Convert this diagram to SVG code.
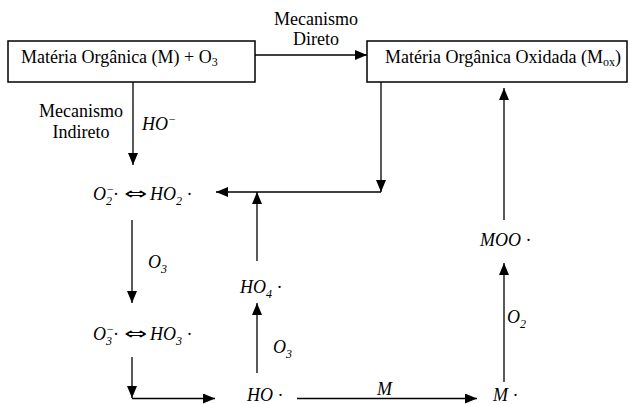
<svg xmlns="http://www.w3.org/2000/svg" width="638" height="404" viewBox="0 0 638 404" font-family="'Liberation Serif', 'DejaVu Serif', serif">
<style>
  text { font-family: "Liberation Serif", "DejaVu Serif", serif; font-size: 18px; fill: #000; }
  .it { font-style: italic; }
  .sm { font-size: 12px; }
  .arr { font-family: "DejaVu Sans", sans-serif; font-style: normal; font-size: 16px; }
  .box { fill: #fff; stroke: #000; stroke-width: 1.5; }
  .ln { fill: none; stroke: #000; stroke-width: 1.3; }
</style>
<defs>
  <marker id="ah" markerUnits="userSpaceOnUse" markerWidth="12" markerHeight="10" viewBox="0 0 12 10" refX="12" refY="5" orient="auto">
    <path d="M0,0 L12,5 L0,10 Z" fill="#000"/>
  </marker>
</defs>
<rect width="638" height="404" fill="#fff"/>

<g id="connectors">
  <path class="ln" d="M255,55 H367" marker-end="url(#ah)"/>
  <path class="ln" d="M133,82 V165" marker-end="url(#ah)"/>
  <path class="ln" d="M381,82 V192" marker-end="url(#ah)"/>
  <path class="ln" d="M381,192 H216" marker-end="url(#ah)"/>
  <path class="ln" d="M257,261 V192" marker-end="url(#ah)"/>
  <path class="ln" d="M132,220 V303" marker-end="url(#ah)"/>
  <path class="ln" d="M132,357 V398" marker-end="url(#ah)"/>
  <path class="ln" d="M132,398.5 H215" marker-end="url(#ah)"/>
  <path class="ln" d="M257,373 V303" marker-end="url(#ah)"/>
  <path class="ln" d="M297,398.5 H477" marker-end="url(#ah)"/>
  <path class="ln" d="M504,382 V263" marker-end="url(#ah)"/>
  <path class="ln" d="M504,220 V88" marker-end="url(#ah)"/>
  <text x="316" y="25" text-anchor="middle">Mecanismo</text>
  <text x="316" y="45" text-anchor="middle">Direto</text>
  <text x="81" y="117" text-anchor="middle">Mecanismo</text>
  <text x="81" y="138" text-anchor="middle">Indireto</text>
  <text x="142" y="130" class="it">HO<tspan class="sm" dy="-7">−</tspan></text>
  <text x="148" y="268" class="it">O<tspan class="sm" dy="5">3</tspan></text>
  <text x="273" y="353" class="it">O<tspan class="sm" dy="5">3</tspan></text>
  <text x="377" y="395" class="it">M</text>
  <text x="507" y="323" class="it">O<tspan class="sm" dy="5">2</tspan></text>
</g>

<g id="box1">
  <rect class="box" x="8" y="41" width="247" height="41"/>
  <text x="21" y="63">Matéria Orgânica (M) + O<tspan class="sm" dy="3">3</tspan></text>
</g>

<g id="box2">
  <rect class="box" x="367" y="41" width="260" height="41"/>
  <text x="385" y="63">Matéria Orgânica Oxidada (M<tspan class="sm" dy="3">ox</tspan><tspan dy="-3">)</tspan></text>
</g>

<g id="n-o2">
  <text x="93" y="200" class="it">O<tspan class="sm" dy="-7">−</tspan><tspan class="sm" x="106" dy="12">2</tspan><tspan x="113" dy="-5" font-style="normal">·</tspan></text>
  <text x="124" y="199" class="arr" textLength="23" lengthAdjust="spacingAndGlyphs">⇔</text>
  <text x="150" y="200" class="it">HO<tspan class="sm" dy="5">2</tspan><tspan dy="-5" font-style="normal"> ·</tspan></text>
</g>

<g id="n-o3">
  <text x="93" y="340" class="it">O<tspan class="sm" dy="-7">−</tspan><tspan class="sm" x="106" dy="12">3</tspan><tspan x="113" dy="-5" font-style="normal">·</tspan></text>
  <text x="124" y="339" class="arr" textLength="23" lengthAdjust="spacingAndGlyphs">⇔</text>
  <text x="150" y="340" class="it">HO<tspan class="sm" dy="5">3</tspan><tspan dy="-5" font-style="normal"> ·</tspan></text>
</g>

<g id="n-ho4">
  <text x="240" y="293" class="it">HO<tspan class="sm" dy="5">4</tspan><tspan dy="-5" font-style="normal"> ·</tspan></text>
</g>

<g id="n-ho">
  <text x="247" y="401" class="it">HO<tspan font-style="normal"> ·</tspan></text>
</g>

<g id="n-m">
  <text x="493" y="401" class="it">M<tspan font-style="normal"> ·</tspan></text>
</g>

<g id="n-moo">
  <text x="480" y="246" class="it">MOO<tspan font-style="normal"> ·</tspan></text>
</g>
</svg>
